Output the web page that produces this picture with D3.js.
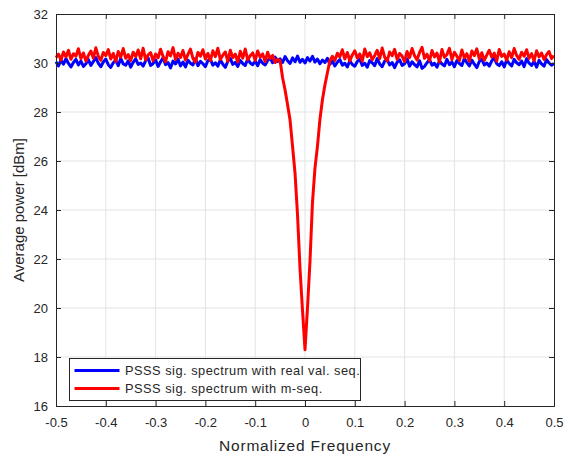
<!DOCTYPE html>
<html>
<head>
<meta charset="utf-8">
<script src="https://cdn.jsdelivr.net/npm/d3@7/dist/d3.min.js"></script>
<style>
  body { margin: 0; background: #fff; }
  text { font-family: Arial, "Liberation Sans", sans-serif; fill: #262626; }
</style>
</head>
<body>
<div id="chart"></div>
<script>
// Spectrum samples, normalized frequency -0.5 .. 0.5 in steps of 0.005
const freqStep = 0.005;
const freqStart = -0.5;

// PSSS with real valued sequence (flat)
const blueDbm = [
  30.05, 29.88, 30.12, 29.95, 30.18, 29.98, 29.84, 30.02, 30.15, 29.92, 30.08, 29.86, 29.97, 30.14, 29.90, 30.06, 30.22, 29.99, 29.85, 30.04,
  30.16, 29.93, 29.82, 30.01, 30.11, 29.89, 30.19, 29.96, 29.91, 30.09, 29.83, 30.03, 30.17, 29.94, 30.00, 29.87, 30.10, 30.20, 29.90, 29.98,
  30.13, 29.86, 30.05, 30.21, 29.93, 30.02, 29.80, 30.08, 29.96, 30.16, 29.88, 30.04, 29.84, 30.12, 29.99, 29.92, 30.18, 29.89, 30.07, 29.97,
  29.85, 30.10, 30.15, 29.91, 30.01, 29.87, 30.13, 29.95, 29.82, 30.07, 30.19, 29.94, 30.03, 29.86, 30.11, 29.98, 29.90, 30.17, 30.00, 29.93,
  30.08, 29.89, 30.14, 29.99, 29.92, 30.10, 30.20, 30.01, 30.24, 30.06, 30.17, 30.02, 30.26, 30.09, 29.98, 30.21, 30.05, 30.28, 30.03, 30.15,
  30.00, 30.22, 30.08, 30.27, 30.04, 30.16, 29.97, 30.12, 30.02, 30.19, 29.95, 30.07, 29.88, 30.03, 30.14, 29.91, 29.99, 29.84, 30.09, 29.94,
  29.87, 30.06, 30.16, 29.90, 29.99, 29.83, 30.10, 30.01, 29.89, 30.18, 29.96, 29.85, 30.08, 30.14, 29.92, 30.02, 29.81, 30.04, 30.13, 29.90,
  29.97, 30.17, 29.87, 30.05, 29.93, 29.84, 30.09, 29.78, 29.86, 30.01, 30.14, 29.91, 29.99, 29.83, 30.08, 29.96, 29.88, 30.15, 29.93, 30.04,
  29.85, 30.10, 29.98, 29.90, 30.19, 30.02, 29.88, 30.12, 29.95, 29.81, 30.06, 30.16, 29.92, 30.00, 29.87, 30.09, 30.21, 29.97, 29.89, 30.05,
  29.84, 30.13, 29.98, 29.88, 30.15, 30.01, 29.93, 30.08, 29.85, 30.18, 29.99, 29.90, 30.07, 29.83, 30.11, 29.96, 29.87, 30.14, 30.00, 29.91, 29.98
];

// PSSS with m-sequence (notch at DC)
const redDbm = [
  30.22, 30.36, 30.12, 30.45, 30.25, 30.52, 30.15, 30.38, 30.28, 30.58, 30.18, 30.41, 30.08, 30.31, 30.49, 30.20, 30.62, 30.27, 30.11, 30.43,
  30.30, 30.55, 30.16, 30.39, 30.06, 30.47, 30.24, 30.59, 30.19, 30.34, 30.10, 30.44, 30.26, 30.53, 30.17, 30.60, 30.13, 30.33, 30.42, 30.09,
  30.37, 30.21, 30.56, 30.27, 30.05, 30.46, 30.29, 30.63, 30.14, 30.40, 30.23, 30.51, 30.12, 30.35, 30.57, 30.19, 30.03, 30.43, 30.28, 30.54,
  30.16, 30.39, 30.10, 30.50, 30.26, 30.60, 30.14, 30.32, 30.45, 30.07, 30.52, 30.22, 30.36, 30.04, 30.48, 30.20, 30.57, 30.13, 30.30, 30.41,
  30.11, 30.49, 30.24, 30.37, 30.06, 30.44, 30.18, 30.31, 30.02, 30.15,
  30.10, 29.40, 28.90, 28.30, 27.67, 26.60, 25.50, 23.80, 21.60, 19.90, 18.30, 20.00, 21.90, 24.30, 25.70, 26.60, 27.70, 28.50, 29.10, 29.60, 30.10,
  30.27, 30.10, 30.40, 30.25, 30.54, 30.16, 30.43, 30.09, 30.33,
  30.50, 30.20, 30.37, 30.07, 30.57, 30.26, 30.42, 30.13, 30.31, 30.52, 30.18, 30.61, 30.24, 30.08, 30.45, 30.30, 30.56, 30.15, 30.39, 30.28,
  30.06, 30.47, 30.22, 30.59, 30.30, 30.12, 30.43, 30.64, 30.19, 30.36, 30.09, 30.51, 30.25, 30.40, 30.04, 30.55, 30.23, 30.35, 30.60, 30.14,
  30.44, 30.28, 30.10, 30.53, 30.21, 30.38, 30.07, 30.49, 30.30, 30.58, 30.17, 30.42, 30.11, 30.32, 30.52, 30.24, 30.40, 30.08, 30.55, 30.27,
  30.36, 30.12, 30.46, 30.22, 30.59, 30.31, 30.15, 30.44, 30.28, 30.54, 30.19, 30.38, 30.09, 30.50, 30.25, 30.41, 30.14, 30.34, 30.47, 30.18, 30.30
];

const xTicks = [-0.5, -0.4, -0.3, -0.2, -0.1, 0, 0.1, 0.2, 0.3, 0.4, 0.5];
const yTicks = [16, 18, 20, 22, 24, 26, 28, 30, 32];

const seriesNames = [
  'PSSS sig. spectrum with real val. seq.',
  'PSSS sig. spectrum with m-seq.'
];
const seriesColors = ['#0000ff', '#ff0000'];

const width = 565, height = 456;
const margin = { top: 14, right: 11, bottom: 50, left: 56 };
const innerW = width - margin.left - margin.right;
const innerH = height - margin.top - margin.bottom;

const svg = d3.select('#chart').append('svg')
  .attr('width', width)
  .attr('height', height);

const g = svg.append('g')
  .attr('transform', `translate(${margin.left},${margin.top})`);

const x = d3.scaleLinear().domain([-0.5, 0.5]).range([0, innerW]);
const y = d3.scaleLinear().domain([16, 32]).range([innerH, 0]);

// grid
g.append('g')
  .selectAll('line')
  .data(xTicks.slice(1, -1))
  .join('line')
  .attr('x1', d => x(d)).attr('x2', d => x(d))
  .attr('y1', 0).attr('y2', innerH)
  .attr('stroke', '#e3e3e3').attr('stroke-width', 1);

g.append('g')
  .selectAll('line')
  .data(yTicks.slice(1, -1))
  .join('line')
  .attr('x1', 0).attr('x2', innerW)
  .attr('y1', d => y(d)).attr('y2', d => y(d))
  .attr('stroke', '#e3e3e3').attr('stroke-width', 1);

// lines
const line = d3.line()
  .x((d, i) => x(freqStart + i * freqStep))
  .y(d => y(d));

const plot = g.append('g');
[blueDbm, redDbm].forEach((data, k) => {
  plot.append('path')
    .datum(data)
    .attr('d', line)
    .attr('fill', 'none')
    .attr('stroke', seriesColors[k])
    .attr('stroke-width', 3)
    .attr('stroke-linejoin', 'round');
});

// axes (inward ticks, box on all sides)
const tickLen = 5;
g.append('g')
  .attr('transform', `translate(0,${innerH})`)
  .call(d3.axisBottom(x).tickValues(xTicks).tickSize(-tickLen).tickPadding(12)
    .tickFormat(d => d === 0 ? '0' : d3.format('.1f')(d).replace('−', '-')));
g.append('g')
  .call(d3.axisLeft(y).tickValues(yTicks).tickSize(-tickLen).tickPadding(8));
g.append('g')
  .call(d3.axisTop(x).tickValues(xTicks).tickSize(-tickLen).tickFormat(''));
g.append('g')
  .attr('transform', `translate(${innerW},0)`)
  .call(d3.axisRight(y).tickValues(yTicks).tickSize(-tickLen).tickFormat(''));

g.selectAll('.domain, .tick line').attr('stroke', '#262626');
g.selectAll('.tick text').style('font-size', '13px').attr('fill', '#262626');

// axis labels
svg.append('text')
  .attr('x', margin.left + innerW / 2)
  .attr('y', 451)
  .attr('text-anchor', 'middle')
  .style('font-size', '15.5px')
  .style('letter-spacing', '0.8px')
  .text('Normalized Frequency');

svg.append('text')
  .attr('transform', `translate(24,${margin.top + innerH / 2}) rotate(-90)`)
  .attr('text-anchor', 'middle')
  .style('font-size', '15px')
  .text('Average power [dBm]');

// legend
const legend = svg.append('g').attr('transform', 'translate(69.5,358.5)');
legend.append('rect')
  .attr('width', 291).attr('height', 42)
  .attr('fill', '#fff').attr('stroke', '#262626').attr('stroke-width', 1);

seriesNames.forEach((name, i) => {
  const row = legend.append('g').attr('transform', `translate(0,${12 + i * 18})`);
  row.append('line')
    .attr('x1', 5).attr('x2', 50)
    .attr('stroke', seriesColors[i]).attr('stroke-width', 3);
  row.append('text')
    .attr('x', 55.5).attr('y', 4.5)
    .style('font-size', '12.8px')
    .style('letter-spacing', '0.5px')
    .text(name);
});
</script>
</body>
</html>
